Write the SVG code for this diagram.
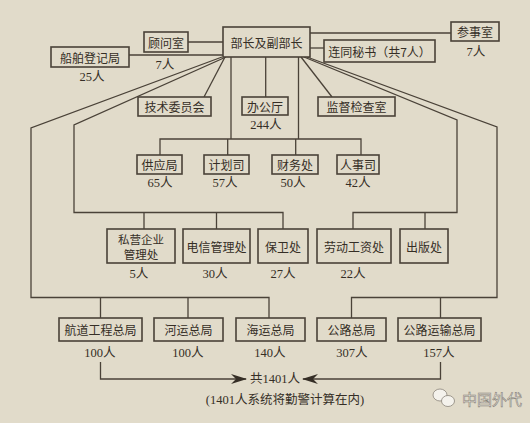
<svg xmlns="http://www.w3.org/2000/svg" width="530" height="423" viewBox="0 0 530 423">
<defs>
<style>
.bg{fill:#e1dbca}
.box{fill:#e1dbca;stroke:#4a4238;stroke-width:1.6}
.ln{fill:none;stroke:#4a4238;stroke-width:1.3}
.t{font-family:"Noto Sans CJK SC","Noto Sans CJK JP",sans-serif;font-size:12px;fill:#352e26;text-anchor:middle;dominant-baseline:central}
.t2{font-family:"Noto Sans CJK SC","Noto Sans CJK JP",sans-serif;font-size:11.5px;fill:#352e26;text-anchor:middle;dominant-baseline:central}
.n{font-family:"Liberation Serif","Noto Sans CJK SC",serif;font-size:12.5px;fill:#352e26;text-anchor:middle;dominant-baseline:central}
.wm{font-family:"Noto Sans CJK SC",sans-serif;font-size:15px;fill:#f4f2ec;stroke:#8a847a;stroke-width:0.6;dominant-baseline:central}
</style>
<marker id="arr" viewBox="0 0 16 10" refX="15" refY="5" markerWidth="16" markerHeight="10" markerUnits="userSpaceOnUse" orient="auto">
<path d="M0,0 L16,5 L0,10 L5,5 z" fill="#352e26"/>
</marker>
</defs>
<rect class="bg" x="0" y="0" width="530" height="423"/>

<g id="connectors">
<path class="ln" d="M188,42 H223"/>
<path class="ln" d="M129,55 H223"/>
<path class="ln" d="M310,33 H451"/>
<path class="ln" d="M310,48 H324"/>
<path class="ln" d="M225,57 L204,97"/>
<path class="ln" d="M265.7,57 V97"/>
<path class="ln" d="M301,57 L332,97"/>
<path class="ln" d="M231,57 V139 M298.5,57 V139"/>
<path class="ln" d="M160,155 V139 H361 V155 M227.7,139 V155 M295.7,139 V155"/>
<path class="ln" d="M226,57 L74,125 V212.5 H283 V229 M144,212.5 V229 M216.5,212.5 V229"/>
<path class="ln" d="M304,57 L457,120 V212.5 H353 V229 M425,212.5 V229"/>
<path class="ln" d="M222,57 L31,128 V297.5 H269 V318 M100.5,297.5 V318 M188,297.5 V318"/>
<path class="ln" d="M307,57 L497,127 V297.5 H351.5 V318 M440.5,297.5 V318"/>
<path class="ln" d="M100.5,362 V379 H246" marker-end="url(#arr)"/>
<path class="ln" d="M440.5,362 V379 H303" marker-end="url(#arr)"/>
</g>

<g id="n-main"><rect class="box" x="223" y="27" width="87" height="30"/><text class="t" x="266.5" y="42">部长及副部长</text></g>
<g id="n-guwen"><rect class="box" x="144" y="32" width="44" height="20"/><text class="t" x="166" y="42">顾问室</text><text class="n" x="165" y="65">7人</text></g>
<g id="n-chuanbo"><rect class="box" x="51" y="47" width="78" height="20"/><text class="t" x="90" y="57">船舶登记局</text><text class="n" x="92" y="77">25人</text></g>
<g id="n-canshi"><rect class="box" x="451" y="22" width="48" height="19"/><text class="t" x="475" y="31.5">参事室</text><text class="n" x="476" y="52">7人</text></g>
<g id="n-mishu"><rect class="box" x="324" y="40" width="111" height="22"/><text class="t" x="379.5" y="51">连同秘书（共7人）</text></g>
<g id="n-jishu"><rect class="box" x="138" y="97" width="73" height="19"/><text class="t" x="174.5" y="106.5">技术委员会</text></g>
<g id="n-bangong"><rect class="box" x="242" y="97" width="46" height="18"/><text class="t" x="265" y="106">办公厅</text><text class="n" x="266" y="125">244人</text></g>
<g id="n-jiandu"><rect class="box" x="318" y="97" width="77" height="19"/><text class="t" x="356.5" y="106.5">监督检查室</text></g>

<g id="n-gongying"><rect class="box" x="137" y="155" width="45" height="19"/><text class="t" x="159.5" y="164.5">供应局</text><text class="n" x="160" y="183">65人</text></g>
<g id="n-jihua"><rect class="box" x="204" y="155" width="45" height="19"/><text class="t" x="226.5" y="164.5">计划司</text><text class="n" x="225" y="183">57人</text></g>
<g id="n-caiwu"><rect class="box" x="272" y="155" width="46" height="19"/><text class="t" x="295" y="164.5">财务处</text><text class="n" x="293" y="183">50人</text></g>
<g id="n-renshi"><rect class="box" x="337" y="155" width="42" height="19"/><text class="t" x="358" y="164.5">人事司</text><text class="n" x="358" y="183">42人</text></g>

<g id="n-siying"><rect class="box" x="107" y="229" width="68" height="34"/><text class="t2" x="141" y="238.5">私营企业</text><text class="t2" x="141" y="254">管理处</text><text class="n" x="139" y="274">5人</text></g>
<g id="n-dianxin"><rect class="box" x="183" y="229" width="67" height="34"/><text class="t" x="216.5" y="246">电信管理处</text><text class="n" x="215" y="274">30人</text></g>
<g id="n-baowei"><rect class="box" x="258" y="229" width="50" height="34"/><text class="t" x="283" y="246">保卫处</text><text class="n" x="283" y="274">27人</text></g>
<g id="n-laodong"><rect class="box" x="317" y="229" width="74" height="34"/><text class="t" x="354" y="246">劳动工资处</text><text class="n" x="353" y="274">22人</text></g>
<g id="n-chuban"><rect class="box" x="400" y="229" width="48" height="34"/><text class="t" x="424" y="246">出版处</text></g>

<g id="n-hangdao"><rect class="box" x="59" y="318" width="83" height="23"/><text class="t" x="100.5" y="329.5">航道工程总局</text><text class="n" x="100" y="353">100人</text></g>
<g id="n-heyun"><rect class="box" x="154" y="318" width="69" height="23"/><text class="t" x="188.5" y="329.5">河运总局</text><text class="n" x="188" y="353">100人</text></g>
<g id="n-haiyun"><rect class="box" x="236" y="318" width="69" height="23"/><text class="t" x="270.5" y="329.5">海运总局</text><text class="n" x="270" y="353">140人</text></g>
<g id="n-gonglu"><rect class="box" x="317" y="318" width="69" height="23"/><text class="t" x="351.5" y="329.5">公路总局</text><text class="n" x="352" y="353">307人</text></g>
<g id="n-yunshu"><rect class="box" x="398" y="318" width="83" height="23"/><text class="t" x="439.5" y="329.5">公路运输总局</text><text class="n" x="439" y="353">157人</text></g>

<g id="n-total"><text class="n" x="275" y="378.5">共1401人</text><text class="n" x="285" y="400">(1401人系统将勤警计算在内)</text></g>

<g id="watermark">
<ellipse cx="440" cy="395" rx="7" ry="6" fill="#f4f2ec" stroke="#8a847a" stroke-width="0.8"/>
<ellipse cx="448" cy="401" rx="6.5" ry="5.5" fill="#f4f2ec" stroke="#8a847a" stroke-width="0.8"/>
<text class="wm" x="462" y="398">中国外代</text>
</g>
</svg>
